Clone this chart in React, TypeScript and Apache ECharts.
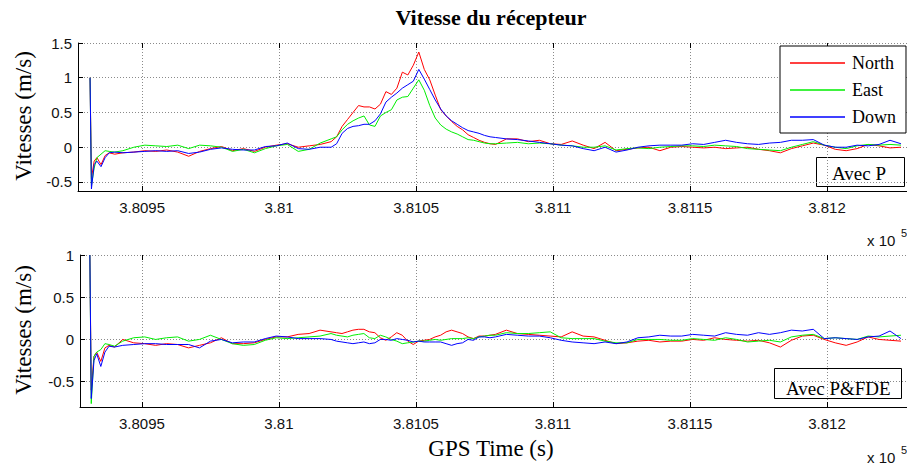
import * as echarts from "echarts";
import { useEffect, useRef } from "react";

// GPS time stamps (s)
const times = [
  380931, 380931.5, 380932.5, 380933.5, 380935, 380936.5, 380938, 380940, 380943,
  380947, 380951, 380955, 380959, 380963, 380967, 380971, 380975, 380979, 380983, 380987, 380991, 380995, 380999, 381003, 381007, 381011, 381015,
  381019, 381021, 381023, 381025, 381027, 381029, 381031, 381033, 381035, 381037, 381039, 381041, 381043, 381045, 381047, 381049, 381051, 381053, 381055, 381057, 381059, 381061, 381063, 381065, 381067, 381069, 381071, 381073, 381075, 381077, 381079,
  381083, 381087, 381091, 381095, 381099, 381103, 381107, 381111, 381115, 381119, 381123, 381127, 381131, 381135, 381139, 381143, 381147, 381151, 381155, 381159, 381163, 381167, 381171, 381175, 381179, 381183, 381187, 381191, 381195, 381199, 381203, 381207, 381211, 381215, 381219, 381223, 381227,
];

// Top panel: "Avec P"
const topNorth = [
  1, -0.45, -0.2, -0.15, -0.25, -0.12, -0.08, -0.1, -0.08,
  -0.07, -0.05, -0.06, -0.04, -0.07, -0.13, -0.06, -0.02, 0.01, -0.05, -0.02, -0.06, 0.0, 0.03, 0.05, 0.0, 0.02, 0.04,
  0.08, 0.15, 0.3, 0.4, 0.5, 0.6, 0.58, 0.58, 0.55, 0.62, 0.8, 0.76, 0.85, 1.08, 1.04, 1.18, 1.37, 1.12, 0.97, 0.75, 0.54, 0.45, 0.37, 0.3, 0.25, 0.18, 0.14, 0.1, 0.07, 0.05, 0.04,
  0.12, 0.12, 0.08, 0.1, 0.05, 0.04, 0.09, 0.03, -0.02, 0.07, -0.05, -0.03, -0.01, 0.0, -0.05, 0.0, 0.01, 0.0, -0.01, 0.0, -0.02, -0.01, 0.0, -0.03, -0.05, -0.08, -0.02, 0.02, 0.06, 0.03, -0.03, -0.05, -0.02, 0.04, 0.02, -0.01, 0.0,
];
const topEast = [
  1, -0.55, -0.3, -0.15, -0.1, -0.05, -0.06, -0.07, -0.05,
  0.0, 0.03, 0.02, 0.01, 0.03, -0.02, 0.03, 0.02, 0.0, -0.06, -0.03, -0.08, -0.02, 0.02, 0.04, -0.06, -0.03, 0.06,
  0.12, 0.15, 0.25, 0.33, 0.38, 0.42, 0.45, 0.32, 0.3, 0.45, 0.5, 0.54, 0.68, 0.72, 0.73, 0.85, 0.97, 0.82, 0.6, 0.42, 0.32, 0.26, 0.22, 0.19, 0.15, 0.11, 0.1, 0.08, 0.06, 0.05, 0.05,
  0.06, 0.07, 0.05, 0.06, 0.05, 0.03, 0.02, 0.0, 0.0, 0.02, -0.04, -0.02, -0.01, -0.02, 0.0, 0.01, 0.02, 0.02, 0.01, 0.03, 0.02, 0.01, -0.02, -0.03, -0.04, -0.05, 0.0, 0.04, 0.08, 0.03, 0.0, -0.02, 0.02, 0.04, 0.03, 0.04, 0.03,
];
const topDown = [
  1, -0.6, -0.25, -0.2, -0.28, -0.15, -0.08, -0.07, -0.08,
  -0.07, -0.06, -0.05, -0.06, -0.05, -0.09, -0.07, -0.03, -0.01, -0.03, -0.04, -0.04, 0.01, 0.02, 0.06, -0.02, -0.03, 0.0,
  0.0, 0.05, 0.2, 0.27, 0.3, 0.31, 0.33, 0.33, 0.38, 0.48, 0.65, 0.72, 0.78, 0.85, 0.9, 0.95, 1.12, 0.98, 0.83, 0.68, 0.55, 0.45, 0.38, 0.33, 0.28, 0.24, 0.22, 0.2, 0.17, 0.15, 0.14,
  0.12, 0.11, 0.09, 0.07, 0.05, 0.03, 0.02, -0.02, -0.05, 0.0, -0.07, -0.04, 0.0, 0.02, 0.03, 0.03, 0.03, 0.05, 0.04, 0.07, 0.1, 0.07, 0.05, 0.04, 0.06, 0.07, 0.1, 0.1, 0.11, 0.03, 0.0, 0.0, 0.03, 0.02, 0.04, 0.1, 0.05,
];

// Bottom panel: "Avec P&FDE"
const botNorth = [
  1, -0.6, -0.2, -0.15, -0.26, -0.1, -0.07, -0.09, 0.0,
  -0.04, -0.05, -0.07, -0.05, -0.06, -0.1, -0.07, -0.04, 0.02, -0.05, -0.05, -0.04, 0.0, 0.03, 0.03, 0.06, 0.07, 0.11,
  0.09, 0.08, 0.07, 0.09, 0.11, 0.12, 0.12, 0.09, 0.08, 0.02, -0.01, 0.03, 0.08, 0.05, -0.02, -0.06, -0.02, -0.01, 0.0, 0.03, 0.05, 0.09, 0.11, 0.09, 0.07, 0.03, 0.01, 0.04, 0.04, 0.05, 0.06,
  0.11, 0.07, 0.06, 0.05, 0.04, 0.03, 0.09, 0.04, 0.03, -0.01, -0.05, -0.04, -0.02, -0.01, -0.03, -0.02, -0.02, 0.0, -0.01, 0.02, 0.0, -0.01, -0.02, -0.01, -0.04, -0.09, -0.01, 0.04, 0.05, 0.0, -0.04, -0.07, -0.03, 0.03, 0.0, -0.01, -0.02,
];
const botEast = [
  1, -0.76, -0.2, -0.15, -0.12, -0.05, -0.06, -0.08, -0.02,
  0.02, 0.03, 0.0, 0.02, 0.03, -0.02, 0.0, 0.05, 0.0, -0.05, -0.07, -0.06, -0.01, 0.02, 0.01, 0.02, 0.03, 0.04,
  0.07, 0.05, 0.04, 0.03, 0.05, 0.06, 0.07, 0.02, 0.01, 0.05, 0.03, 0.0, -0.02, -0.05, -0.04, -0.03, -0.02, -0.02, -0.01, 0.0, -0.01, 0.0, 0.01, 0.01, 0.01, 0.02, 0.01, 0.03, 0.04, 0.05, 0.05,
  0.08, 0.07, 0.07, 0.08, 0.09, 0.02, 0.01, 0.01, 0.01, -0.02, -0.04, -0.04, 0.0, 0.0, 0.0, -0.01, -0.01, 0.01, 0.0, -0.01, 0.02, 0.0, -0.03, -0.02, -0.01, -0.03, 0.03, 0.05, 0.06, 0.01, 0.02, 0.01, 0.0, 0.04, 0.03, 0.04, 0.05,
];
const botDown = [
  1, -0.7, -0.25, -0.17, -0.32, -0.15, -0.08, -0.09, -0.07,
  -0.06, -0.05, -0.05, -0.06, -0.06, -0.06, -0.1, -0.02, 0.0, -0.04, -0.03, -0.03, 0.01, 0.04, 0.03, 0.01, 0.01, 0.01,
  0.0, -0.02, -0.03, -0.04, -0.05, -0.04, -0.03, -0.05, -0.04, 0.0, 0.0, -0.01, 0.01, 0.0, -0.01, -0.03, -0.02, -0.03, -0.03, -0.03, -0.03, -0.05, -0.07, -0.05, -0.04, 0.0, -0.01, 0.03, 0.03, 0.02, 0.03,
  0.06, 0.05, 0.04, 0.04, 0.02, -0.01, -0.03, -0.04, -0.05, -0.03, -0.05, -0.03, 0.02, 0.03, 0.05, 0.04, 0.04, 0.06, 0.05, 0.04, 0.08, 0.06, 0.05, 0.08, 0.06, 0.08, 0.11, 0.1, 0.12, 0.01, 0.02, 0.01, 0.0, 0.03, 0.04, 0.1, 0.01,
];

const xTicks = [380950, 381000, 381050, 381100, 381150, 381200];
const yTicksTop = [-0.5, 0, 0.5, 1, 1.5];
const yTicksBot = [-0.5, 0, 0.5, 1];
const seriesNames = ["North", "East", "Down"];
const seriesColors = ["#ff0000", "#00ee00", "#0000ff"];

const SANS = '"Liberation Sans", Arial, sans-serif';
const SERIF = '"Liberation Serif", "Times New Roman", serif';

const X_MAX = 381229.2;

const fmtX = (v: number) => String(+(v / 1e5).toFixed(4));

function xBottom(gridIndex: number, min: number) {
  return {
    type: "value",
    gridIndex,
    position: "bottom",
    min,
    max: X_MAX,
    axisLine: { show: true, onZero: false, lineStyle: { color: "#000", width: 1 } },
    axisTick: { show: true, inside: true, length: 5, customValues: xTicks, lineStyle: { color: "#000" } },
    axisLabel: { show: true, customValues: xTicks, formatter: fmtX, margin: 9, color: "#111", fontFamily: SANS, fontSize: 15 },
    splitLine: { show: true, lineStyle: { color: "#8a8a8a", type: [1, 2], width: 1 } },
  };
}
function xTop(gridIndex: number, min: number) {
  return {
    type: "value",
    gridIndex,
    position: "top",
    min,
    max: X_MAX,
    axisLine: { show: false, onZero: false },
    axisTick: { show: true, inside: true, length: 5, customValues: xTicks, lineStyle: { color: "#000" } },
    axisLabel: { show: false },
    splitLine: { show: false },
  };
}
function yAxis(gridIndex: number, min: number, max: number, ticks: number[]) {
  return {
    type: "value",
    gridIndex,
    min,
    max,
    axisLine: { show: true, onZero: false, lineStyle: { color: "#000", width: 1 } },
    axisTick: { show: true, inside: true, length: 5, customValues: ticks, lineStyle: { color: "#000" } },
    axisLabel: { show: true, customValues: ticks, formatter: (v: number) => String(v), margin: 6, color: "#111", fontFamily: SANS, fontSize: 15 },
    splitLine: { show: true, lineStyle: { color: "#8a8a8a", type: [1, 2], width: 1 } },
  };
}

function mkSeries(values: number[], idx: number, xi: number, yi: number) {
  return {
    type: "line",
    name: seriesNames[idx],
    xAxisIndex: xi,
    yAxisIndex: yi,
    data: times.map((t, i) => [t, values[i]]),
    showSymbol: false,
    symbol: "none",
    color: seriesColors[idx],
    lineStyle: { color: seriesColors[idx], width: 1 },
    clip: true,
  };
}

export default function App() {
  const ref = useRef<HTMLDivElement>(null);
  useEffect(() => {
    document.body.style.margin = "0";
    const chart = echarts.init(ref.current!, null, { renderer: "svg" });
    const option: any = {
      animation: false,
      backgroundColor: "#fff",
      grid: [
        { left: 78, top: 43, width: 829, height: 148 },
        { left: 80, top: 255, width: 827, height: 152 },
      ],
      xAxis: [xBottom(0, 380926.6), xTop(0, 380926.6), xBottom(1, 380927.4), xTop(1, 380927.4)],
      yAxis: [yAxis(0, -0.63, 1.5, yTicksTop), yAxis(1, -0.8, 1, yTicksBot)],
      legend: {
        data: seriesNames,
        orient: "vertical",
        left: 780,
        top: 46,
        padding: [8, 10, 7, 10],
        itemGap: 9,
        itemWidth: 55,
        itemHeight: 1.5,
        icon: "rect",
        backgroundColor: "#fff",
        borderColor: "#000",
        borderWidth: 1,
        borderRadius: 0,
        textStyle: { fontFamily: SERIF, fontSize: 18, color: "#000", lineHeight: 16, padding: [0, 0, 0, 2] },
      },
      series: [
        mkSeries(topNorth, 0, 0, 0),
        mkSeries(topEast, 1, 0, 0),
        mkSeries(topDown, 2, 0, 0),
        mkSeries(botNorth, 0, 2, 1),
        mkSeries(botEast, 1, 2, 1),
        mkSeries(botDown, 2, 2, 1),
      ],
      graphic: [
        { type: "text", x: 491, y: 17, style: { text: "Vitesse du récepteur", font: `bold 22px ${SERIF}`, fill: "#000", align: "center", verticalAlign: "middle" } },
        { type: "text", x: 23, y: 116, rotation: Math.PI / 2, style: { text: "Vitesses (m/s)", font: `23px ${SERIF}`, fill: "#000", align: "center", verticalAlign: "middle" } },
        { type: "text", x: 23, y: 330, rotation: Math.PI / 2, style: { text: "Vitesses (m/s)", font: `23px ${SERIF}`, fill: "#000", align: "center", verticalAlign: "middle" } },
        { type: "text", x: 491, y: 448, style: { text: "GPS Time (s)", font: `23px ${SERIF}`, fill: "#000", align: "center", verticalAlign: "middle" } },
        { type: "text", x: 867, y: 240, style: { text: "x 10", font: `15px ${SANS}`, fill: "#111", align: "left", verticalAlign: "middle" } },
        { type: "text", x: 901, y: 233, style: { text: "5", font: `11px ${SANS}`, fill: "#111", align: "left", verticalAlign: "middle" } },
        { type: "text", x: 867, y: 457, style: { text: "x 10", font: `15px ${SANS}`, fill: "#111", align: "left", verticalAlign: "middle" } },
        { type: "text", x: 901, y: 450, style: { text: "5", font: `11px ${SANS}`, fill: "#111", align: "left", verticalAlign: "middle" } },
        { type: "rect", shape: { x: 816.5, y: 157.5, width: 88, height: 29 }, style: { fill: "none", stroke: "#000", lineWidth: 1 } },
        { type: "text", x: 832, y: 173, style: { text: "Avec P", font: `19px ${SERIF}`, fill: "#000", align: "left", verticalAlign: "middle" } },
        { type: "rect", shape: { x: 774.5, y: 368.5, width: 127, height: 30 }, style: { fill: "none", stroke: "#000", lineWidth: 1 } },
        { type: "text", x: 786, y: 388, style: { text: "Avec P&FDE", font: `19px ${SERIF}`, fill: "#000", align: "left", verticalAlign: "middle" } },
      ],
    };
    chart.setOption(option);
    return () => chart.dispose();
  }, []);
  return <div ref={ref} style={{ width: 907, height: 466 }} />;
}
